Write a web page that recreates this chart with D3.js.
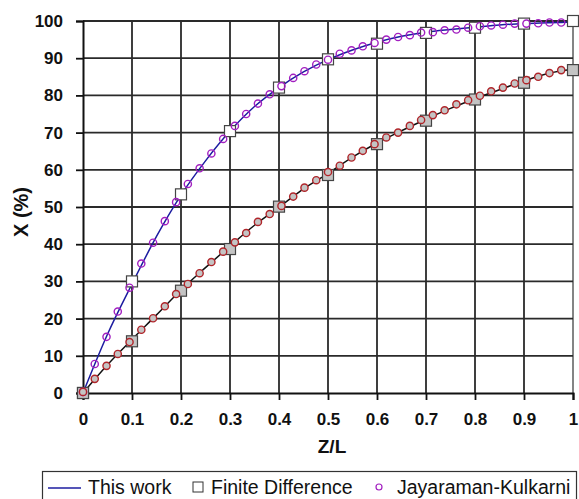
<!DOCTYPE html>
<html><head><meta charset="utf-8">
<script src="https://cdn.jsdelivr.net/npm/d3@7"></script>
<style>body{margin:0;background:#fff}svg{display:block}</style>
</head><body>
<svg id="c" width="579" height="499"></svg>
<script>
// ---- data ----
const xTicks = [0,0.1,0.2,0.3,0.4,0.5,0.6,0.7,0.8,0.9,1];
const xTickLabels = ["0","0.1","0.2","0.3","0.4","0.5","0.6","0.7","0.8","0.9","1"];
const yTicks = [0,10,20,30,40,50,60,70,80,90,100];

// "This work" model lines
const lineZ = [0,0.05,0.1,0.15,0.2,0.25,0.3,0.35,0.4,0.45,0.5,0.55,0.6,0.65,0.7,0.75,0.8,0.85,0.9,0.95,1];
const lineUpper = [0,15.8,29.3,42.1,53.2,62.4,70.4,77.0,82.1,86.3,89.6,92.2,94.3,95.9,97.0,97.7,98.3,98.9,99.3,99.5,99.7];
const lineLower = [0,7.6,14.4,21.0,27.7,33.7,39.5,45.1,49.9,54.9,59.0,63.4,67.2,70.5,73.6,76.5,79.1,81.5,83.9,85.9,87.0];

// Finite difference
const fdZ = [0,0.1,0.2,0.3,0.4,0.5,0.6,0.7,0.8,0.9,1];
const fdUpper = [0,30.0,53.4,70.4,82.1,89.7,93.9,96.8,98.2,99.3,100];
const fdLower = [0,13.9,27.5,38.7,50.1,58.6,66.9,73.2,78.9,83.4,86.8];

// Jayaraman-Kulkarni
const jkZ = [0,0.024,0.048,0.071,0.095,0.119,0.143,0.167,0.190,0.214,0.238,0.262,0.286,0.310,0.333,0.357,0.381,0.405,0.429,0.452,0.476,0.500,0.524,0.548,0.571,0.595,0.619,0.643,0.667,0.690,0.714,0.738,0.762,0.786,0.810,0.833,0.857,0.881,0.905,0.929,0.952,0.976];
const jkUpper = [0.3,7.8,15.1,21.9,28.3,34.8,40.4,46.2,51.3,56.2,60.4,64.4,68.3,71.8,75.0,77.8,80.3,82.5,84.7,86.5,88.3,89.6,91.2,92.1,93.2,94.1,95.0,95.7,96.2,96.9,97.0,97.5,97.7,98.2,98.6,98.8,99.0,99.3,99.3,99.4,99.6,99.6];
const jkLower = [0.3,3.8,7.3,10.5,13.7,17.0,20.1,23.3,26.6,29.3,32.2,35.2,38.0,40.5,43.0,46.0,48.1,50.3,52.8,55.2,57.2,59.4,61.1,63.3,65.1,66.9,68.7,70.0,71.8,73.4,74.7,76.0,77.6,78.7,79.9,81.1,82.1,83.2,84.1,85.0,86.0,86.8];

const legendLabels = ["This work","Finite Difference","Jayaraman-Kulkarni"];

// ---- layout ----
const W = 579, H = 499;
const m = {left:83, right:6, top:21, bottom:106};
const svg = d3.select("#c");
const x = d3.scaleLinear().domain([0,1]).range([m.left, W-m.right]);
const y = d3.scaleLinear().domain([0,100]).range([H-m.bottom, m.top]);
const font = "Arial, 'Liberation Sans', sans-serif";

// grid
const grid = svg.append("g");
grid.selectAll("line.v").data(xTicks.slice(1)).join("line")
  .attr("x1", d=>x(d)).attr("x2", d=>x(d)).attr("y1", y(0)).attr("y2", y(100))
  .attr("stroke", d=> d===1 ? "#777" : "#2a2a2a").attr("stroke-width", 1.8);
grid.selectAll("line.h").data(yTicks.slice(1)).join("line")
  .attr("x1", x(0)).attr("x2", x(1)).attr("y1", d=>y(d)).attr("y2", d=>y(d))
  .attr("stroke", "#2a2a2a").attr("stroke-width", 1.8);

// axes
const xAxis = svg.append("g").attr("transform", `translate(0,${y(0)})`)
  .call(d3.axisBottom(x).tickValues(xTicks).tickFormat((d,i)=>xTickLabels[i]).tickSize(7).tickPadding(13));
const yAxis = svg.append("g").attr("transform", `translate(${x(0)},0)`)
  .call(d3.axisLeft(y).tickValues(yTicks).tickSize(7).tickPadding(13));
[xAxis, yAxis].forEach(a=>{
  a.selectAll("path.domain").attr("stroke","#111").attr("stroke-width",2);
  a.selectAll(".tick line").attr("stroke","#111").attr("stroke-width",1.8);
  a.selectAll("text").attr("font-family", font).attr("font-weight","bold")
    .attr("font-size", 17).attr("fill","#111");
});

// axis titles
svg.append("text").attr("x", 332).attr("y", 453).attr("text-anchor","middle")
  .attr("font-family", font).attr("font-weight","bold").attr("font-size", 19).attr("fill","#111").text("Z/L");
svg.append("text").attr("transform","translate(28,212) rotate(-90)").attr("text-anchor","middle")
  .attr("font-family", font).attr("font-weight","bold").attr("font-size", 20).attr("fill","#111").text("X (%)");

// lines
const line = d3.line().x(d=>x(d[0])).y(d=>y(d[1])).curve(d3.curveMonotoneX);
svg.append("path").datum(lineZ.map((z,i)=>[z,lineLower[i]])).attr("d", line)
  .attr("fill","none").attr("stroke","#111").attr("stroke-width",1.5);
svg.append("path").datum(lineZ.map((z,i)=>[z,lineUpper[i]])).attr("d", line)
  .attr("fill","none").attr("stroke","#1c1ca0").attr("stroke-width",1.5);

// squares
const sq = 11;
function squares(vals, fill){
  svg.append("g").selectAll("rect").data(fdZ.map((z,i)=>[z,vals[i]])).join("rect")
    .attr("x", d=>x(d[0])-sq/2).attr("y", d=>y(d[1])-sq/2).attr("width", sq).attr("height", sq)
    .attr("fill", fill).attr("stroke","#444").attr("stroke-width",1.2);
}
squares(fdUpper, "#fff");
squares(fdLower, "#c4c4c4");

// circles
function circles(vals, fill, stroke){
  svg.append("g").selectAll("circle").data(jkZ.map((z,i)=>[z,vals[i]])).join("circle")
    .attr("cx", d=>x(d[0])).attr("cy", d=>y(d[1])).attr("r", 3.6)
    .attr("fill", fill).attr("stroke", stroke).attr("stroke-width",1.4);
}
circles(jkUpper, "none", "#a21fc0");
circles(jkLower, "#c4c4c4", "#b0252a");

// legend
const lg = svg.append("g");
lg.append("rect").attr("x",42.5).attr("y",471.5).attr("width",534).attr("height",40)
  .attr("fill","#fff").attr("stroke","#333").attr("stroke-width",1.2);
lg.append("line").attr("x1",48).attr("x2",81).attr("y1",488).attr("y2",488)
  .attr("stroke","#1c1ca0").attr("stroke-width",1.5);
lg.append("rect").attr("x",193).attr("y",482).attr("width",10).attr("height",10)
  .attr("fill","#fff").attr("stroke","#333").attr("stroke-width",1);
lg.append("circle").attr("cx",379).attr("cy",487).attr("r",3)
  .attr("fill","none").attr("stroke","#a21fc0").attr("stroke-width",1.2);
const lx = [88, 211, 397];
lg.selectAll("text").data(legendLabels).join("text")
  .attr("x",(d,i)=>lx[i]).attr("y",494).attr("font-family",font).attr("font-size",19.5).attr("fill","#111")
  .text(d=>d);
</script>
</body></html>
